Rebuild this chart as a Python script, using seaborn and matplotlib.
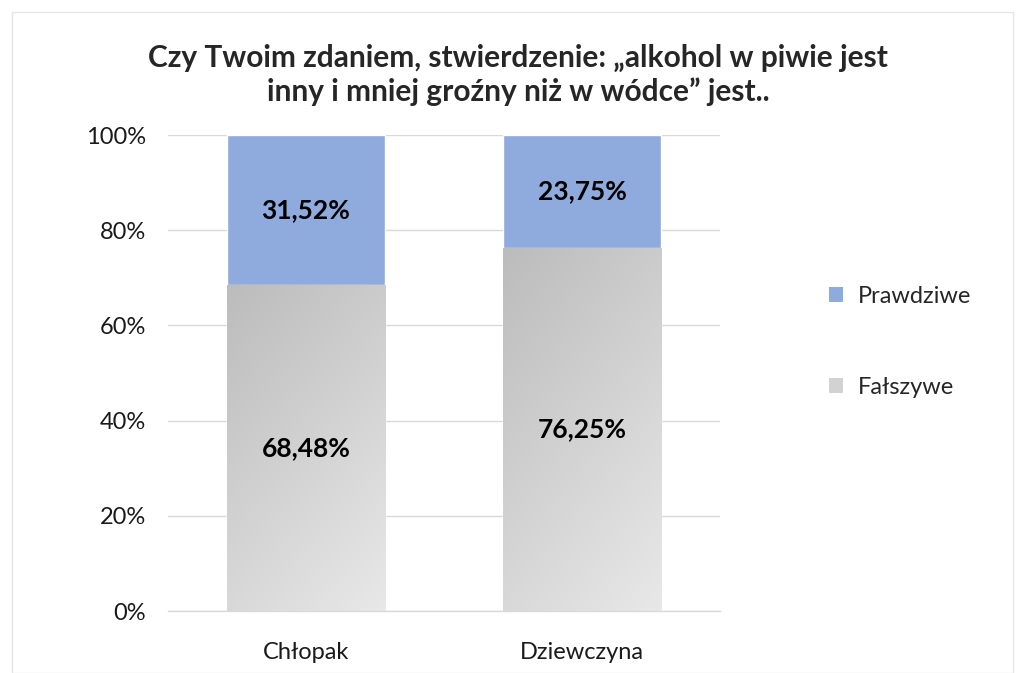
import numpy as np
import pandas as pd
import matplotlib
matplotlib.use("Agg")
import matplotlib.pyplot as plt
import seaborn as sns
from matplotlib.patches import Rectangle, Patch
from matplotlib.colors import LinearSegmentedColormap

categories = ["Chłopak", "Dziewczyna"]
prawdziwe = [31.52, 23.75]
falszywe = [68.48, 76.25]
value_labels_prawdziwe = ["31,52%", "23,75%"]
value_labels_falszywe = ["68,48%", "76,25%"]
y_ticks = [0, 20, 40, 60, 80, 100]
y_tick_labels = ["0%", "20%", "40%", "60%", "80%", "100%"]
title = "Czy Twoim zdaniem, stwierdzenie: „alkohol w piwie jest\ninny i mniej groźny niż w wódce” jest.."
legend_labels = ["Prawdziwe", "Fałszywe"]

sns.set_theme(style="white")
plt.rcParams["font.family"] = ["Lato", "DejaVu Sans"]

BLUE = "#8faadc"
GRAY = "#d2d2d2"

fig = plt.figure(figsize=(10.17, 6.73), dpi=100)
ax = fig.add_axes([168/1017, 1 - 611/673, (720-168)/1017, (611-135)/673])

df = pd.DataFrame({"cat": categories,
                   "total": np.array(prawdziwe) + np.array(falszywe),
                   "f": falszywe})

sns.barplot(data=df, x="cat", y="total", color=BLUE, saturation=1, width=0.576, ax=ax, zorder=2)
n_before = len(ax.patches)
sns.barplot(data=df, x="cat", y="f", color=GRAY, saturation=1, width=0.576, ax=ax, zorder=3)
gray_patches = ax.patches[n_before:]

ax.set_xlim(-0.5, 1.5)
ax.set_ylim(0, 100)

cmap = LinearSegmentedColormap.from_list("g", ["#bcbcbc", "#e8e8e8"])
H, W = 200, 50
yy, xx = np.mgrid[0:H, 0:W]
grad = 0.35 * xx / (W - 1) + 0.65 * yy / (H - 1)
for p in gray_patches:
    x0, y0 = p.get_x(), p.get_y()
    w, h = p.get_width(), p.get_height()
    im = ax.imshow(grad, cmap=cmap, vmin=0, vmax=1, extent=[x0, x0 + w, y0, y0 + h],
                   origin="upper", aspect="auto", zorder=3.5, interpolation="bilinear")
    im.set_clip_path(p)
ax.set_xlim(-0.5, 1.5)
ax.set_ylim(0, 100)
ax.set_aspect("auto")

for i in range(len(categories)):
    ax.text(i, falszywe[i] / 2, value_labels_falszywe[i], ha="center", va="center",
            fontsize=19, fontweight="bold", color="black", zorder=5)
    ax.text(i, falszywe[i] + prawdziwe[i] / 2, value_labels_prawdziwe[i], ha="center", va="center",
            fontsize=19, fontweight="bold", color="black", zorder=5)

ax.set_yticks(y_ticks)
ax.set_yticklabels(y_tick_labels, fontsize=17, color="#1a1a1a")
ax.tick_params(axis="x", labelsize=17, colors="#1a1a1a", pad=16)
ax.tick_params(axis="y", pad=10)
ax.set_xlabel("")
ax.set_ylabel("")
ax.grid(axis="y", color="#d9d9d9", linewidth=1, zorder=0)
ax.set_axisbelow(True)
for s in ["top", "right", "left"]:
    ax.spines[s].set_visible(False)
ax.spines["bottom"].set_color("#d9d9d9")
ax.spines["bottom"].set_linewidth(1)
ax.spines["bottom"].set_zorder(4)

fig.text(518/1017, 1 - 75/673, title, ha="center", va="center", fontsize=21.5,
         fontweight="bold", linespacing=1.2)

handles = [Patch(facecolor=BLUE, edgecolor="none"), Patch(facecolor=GRAY, edgecolor="none")]
fig.legend(handles, legend_labels, loc="upper left", bbox_to_anchor=(808/1017, 1 - 265/673),
           frameon=False, fontsize=17, handlelength=0.6, handleheight=0.6,
           handletextpad=0.6, labelspacing=2.95)

fig.patches.append(Rectangle((12/1017, 0), (1013-12)/1017, 1 - 12/673, transform=fig.transFigure,
                             fill=False, edgecolor="#e6e6e6", linewidth=1))

fig.savefig("out.png", dpi=100, facecolor="white")
